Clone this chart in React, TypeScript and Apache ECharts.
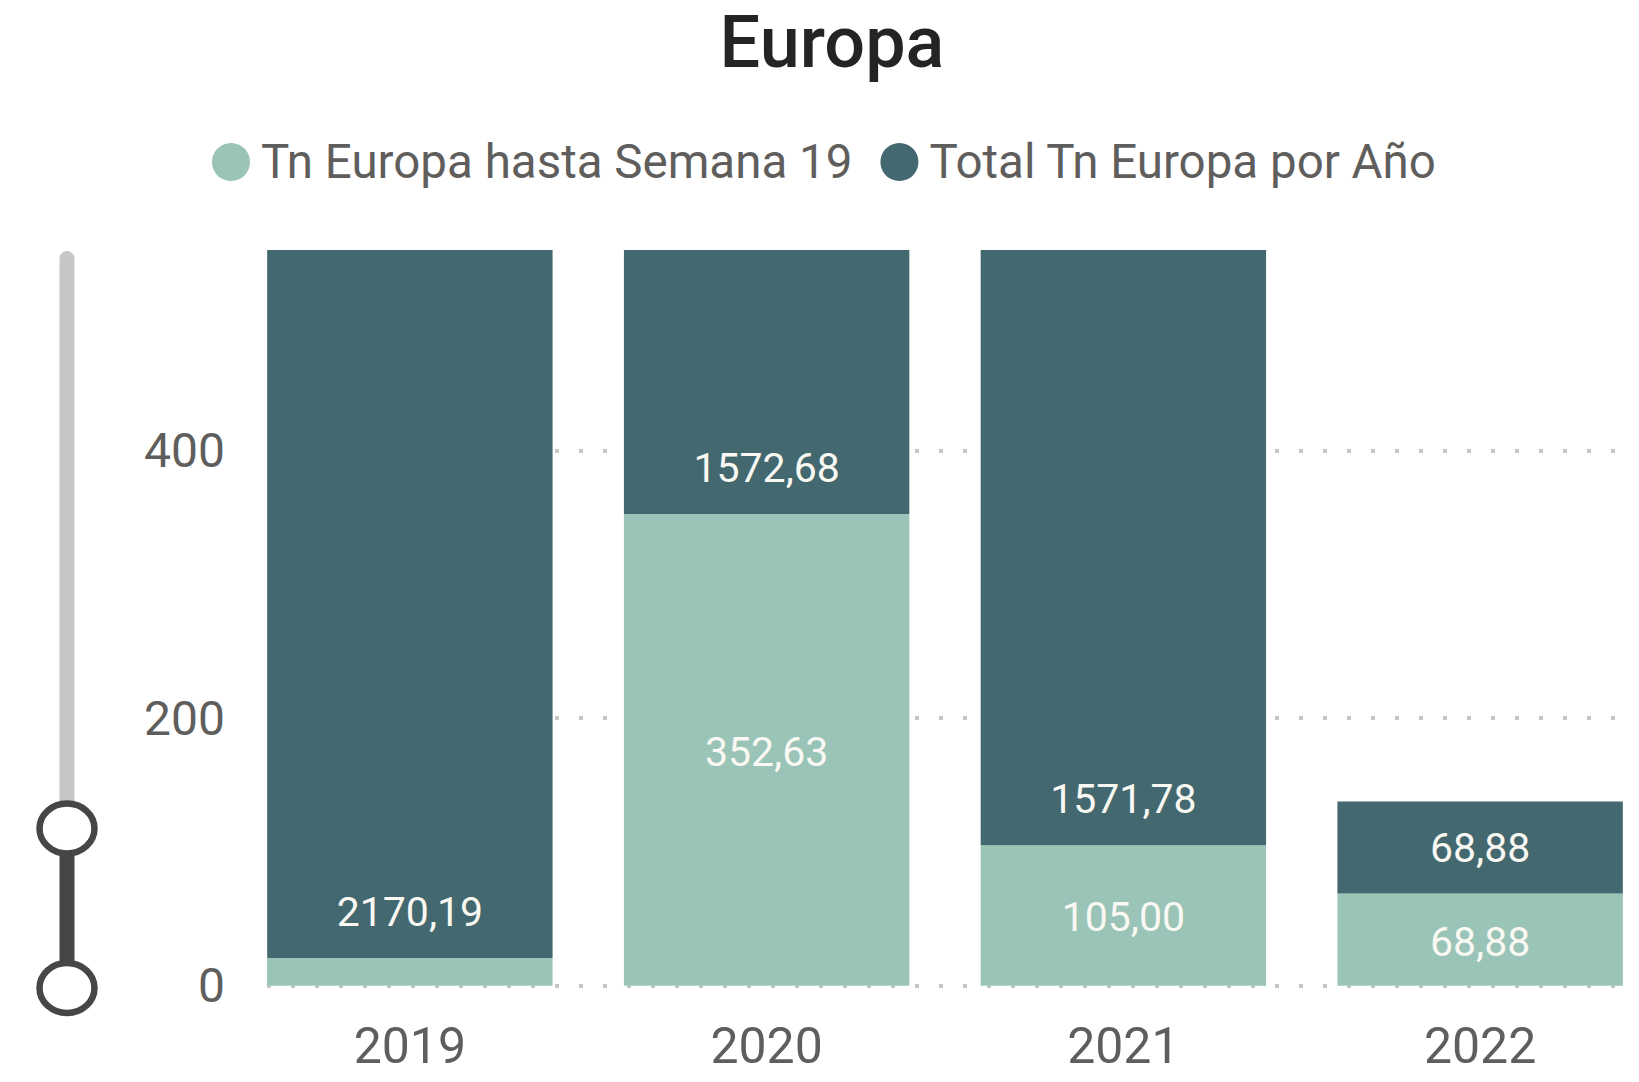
import React, { useEffect, useRef } from 'react';
import * as echarts from 'echarts';

const years = ['2019', '2020', '2021', '2022'];
const tnHastaSemana19 = [20.7, 352.63, 105.0, 68.88];
const totalTnPorAno = [2170.19, 1572.68, 1571.78, 68.88];
const yInterval = 200;
const yVisibleMin = 0;
const yVisibleMax = 550;

const seriesNames = ['Tn Europa hasta Semana 19', 'Total Tn Europa por Año'];
const colors = ['#99C4B7', '#43686F'];

const CANVAS_W = 1680;

export default function App() {
  const ref = useRef<HTMLDivElement>(null);
  useEffect(() => {
    const chart = echarts.init(ref.current as HTMLDivElement, null, { renderer: 'svg' });
    const fmt = (v: number) => v.toFixed(2).replace('.', ',');
    const font = 'Roboto';
    const labelColor = '#FAF8F2';
    const axisColor = '#605E5C';
    const gridTop = 250;
    const gridBottom = 96.3;

    const option: any = {
      animation: false,
      backgroundColor: '#FFFFFF',
      title: {
        text: 'Europa',
        left: 832,
        top: 6,
        padding: 0,
        textAlign: 'center',
        textStyle: {
          fontFamily: font,
          fontSize: 72,
          lineHeight: 72,
          fontWeight: 500,
          color: '#252423',
        },
      },
      legend: {
        left: 212,
        top: 138,
        padding: 0,
        itemGap: 28,
        itemWidth: 38,
        itemHeight: 38,
        icon: 'circle',
        data: seriesNames,
        textStyle: {
          fontFamily: font,
          fontSize: 47.5,
          lineHeight: 48,
          color: axisColor,
          padding: [0, 0, 0, 6],
        },
      },
      grid: [
        { left: 267, right: CANVAS_W - 1616, top: gridTop, bottom: gridBottom, containLabel: false },
        { left: 231.5, right: CANVAS_W - 1658.5, top: gridTop, bottom: gridBottom, containLabel: false },
      ],
      xAxis: [
        { type: 'category', gridIndex: 0, data: years, show: false },
        {
          type: 'category',
          gridIndex: 1,
          data: years,
          axisLine: { show: false },
          axisTick: { show: false },
          axisLabel: {
            fontFamily: font,
            fontSize: 50,
            lineHeight: 50,
            color: axisColor,
            margin: 35,
          },
        },
      ],
      yAxis: [
        {
          type: 'value',
          gridIndex: 0,
          min: yVisibleMin,
          max: yVisibleMax,
          interval: yInterval,
          axisLine: { show: false },
          axisTick: { show: false },
          axisLabel: {
            fontFamily: font,
            fontSize: 48,
            lineHeight: 48,
            color: axisColor,
            margin: 42,
            padding: [6, 0, 0, 0],
            showMaxLabel: false,
          },
          splitLine: {
            show: true,
            showMaxLine: false,
            lineStyle: { color: '#C8C6C4', width: 4, type: [4, 20] },
          },
        },
        {
          type: 'value',
          gridIndex: 1,
          min: yVisibleMin,
          max: yVisibleMax,
          interval: yInterval,
          show: false,
          splitLine: { show: false },
        },
      ],
      series: [
        {
          name: seriesNames[0],
          type: 'bar',
          stack: 'total',
          xAxisIndex: 1,
          yAxisIndex: 1,
          barCategoryGap: '20%',
          itemStyle: { color: colors[0] },
          label: {
            show: true,
            position: 'inside',
            offset: [0, 2],
            fontFamily: font,
            fontSize: 41,
            lineHeight: 42,
            color: labelColor,
            formatter: (p: any) => fmt(p.value),
          },
          data: tnHastaSemana19.map((v) => (v < 40 ? { value: v, label: { show: false } } : v)),
        },
        {
          name: seriesNames[1],
          type: 'bar',
          stack: 'total',
          xAxisIndex: 1,
          yAxisIndex: 1,
          barCategoryGap: '20%',
          itemStyle: { color: colors[1] },
          label: {
            show: true,
            position: 'insideBottom',
            distance: 25,
            fontFamily: font,
            fontSize: 41,
            lineHeight: 42,
            color: labelColor,
            formatter: (p: any) => fmt(p.value),
          },
          data: totalTnPorAno,
        },
      ],
      graphic: [
        {
          type: 'rect',
          shape: { x: 59.5, y: 251, width: 15, height: 828 - 251, r: 7.5 },
          style: { fill: '#C8C6C4' },
          z: 10,
        },
        {
          type: 'rect',
          shape: { x: 59.5, y: 828, width: 15, height: 160 },
          style: { fill: '#484644' },
          z: 10,
        },
        {
          type: 'ellipse',
          shape: { cx: 67, cy: 828.5, rx: 27.5, ry: 25 },
          style: { fill: '#FFFFFF', stroke: '#484644', lineWidth: 6.5 },
          z: 11,
        },
        {
          type: 'ellipse',
          shape: { cx: 67, cy: 988, rx: 27.5, ry: 25 },
          style: { fill: '#FFFFFF', stroke: '#484644', lineWidth: 6.5 },
          z: 11,
        },
      ],
    };
    chart.setOption(option);
    return () => chart.dispose();
  }, []);
  return (
    <div
      style={{ position: 'absolute', left: 0, top: 0, width: 1639, height: 1082, overflow: 'hidden' }}
    >
      <div ref={ref} style={{ width: CANVAS_W, height: 1082 }} />
    </div>
  );
}
